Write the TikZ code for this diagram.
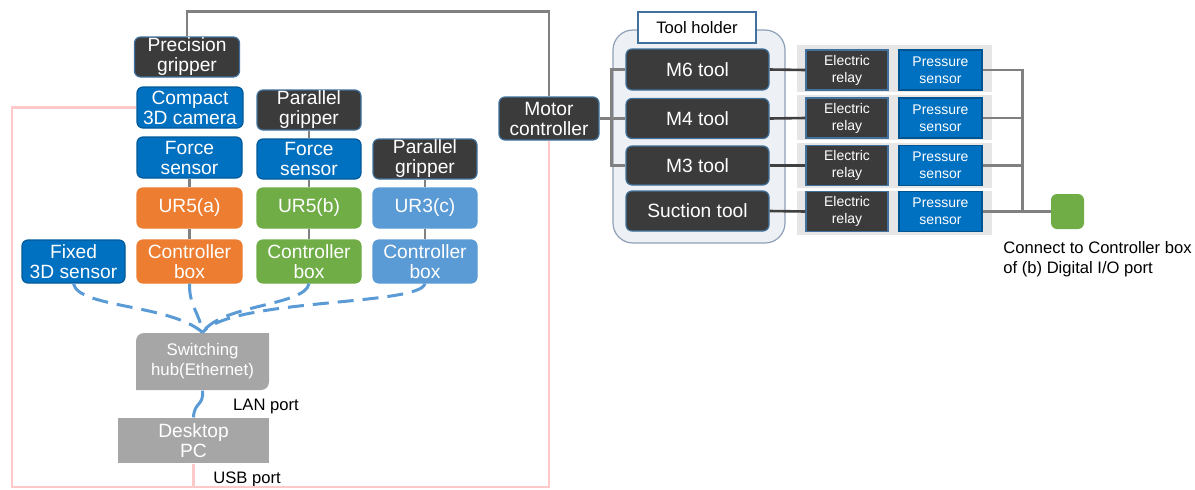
\documentclass[tikz,border=0pt]{standalone}
\usepackage{fontspec}
\setmainfont{Liberation Sans}
\usetikzlibrary{arrows.meta}
\definecolor{boxdark}{HTML}{3B3B3B}
\definecolor{boxedge}{HTML}{41719C}
\definecolor{uiblue}{HTML}{0070C0}
\definecolor{uiorange}{HTML}{ED7D31}
\definecolor{uigreen}{HTML}{70AD47}
\definecolor{uilight}{HTML}{5B9BD5}
\definecolor{hubgray}{HTML}{A6A6A6}
\definecolor{wiregray}{HTML}{808080}
\definecolor{wiredark}{HTML}{404040}
\definecolor{pinkwire}{HTML}{FFC9C9}
\definecolor{framebg}{HTML}{EDF0F4}
\definecolor{framebd}{HTML}{8EA0B8}
\definecolor{rowbg}{HTML}{E7E6E6}
\tikzset{
  sz/.style 2 args={minimum width=#1*0.5pt, minimum height=#2*0.5pt},
  box/.style={rounded corners=3pt, line width=0.6pt, text=white, align=center,
              inner sep=0pt, font=\fontsize{9.6}{10}\selectfont},
  darkbox/.style={box, fill=boxdark, draw=boxedge},
  bluebox/.style={box, fill=uiblue, draw=uiblue!80!black},
  orangebox/.style={box, fill=uiorange, draw=uiorange},
  greenbox/.style={box, fill=uigreen, draw=uigreen},
  lightbox/.style={box, fill=uilight, draw=uilight},
  smallbox/.style={line width=0.6pt, text=white, align=center, inner sep=0pt,
                   font=\fontsize{7}{8.5}\selectfont},
  relaybox/.style={smallbox, fill=boxdark, draw=boxedge},
  pressbox/.style={smallbox, fill=uiblue, draw=uiblue!75!black},
  note/.style={inner sep=0pt, align=left, font=\fontsize{8.3}{10}\selectfont},
  gline/.style={draw=wiregray, line width=1.3pt},
  dline/.style={draw=wiredark, line width=1.3pt},
  pline/.style={draw=pinkwire, line width=1.1pt},
  lan/.style={draw=uilight, line width=1.5pt},
  landash/.style={lan, dash pattern=on 8pt off 4.5pt}
}
\begin{document}
\begin{tikzpicture}[x=0.5pt, y=-0.5pt]
	\useasboundingbox (0,0) rectangle (1195,489);
	% robot arms
	\node[darkbox, sz={105}{40}] (prec) at (187,57) {Precision\\gripper};
	\node[bluebox, sz={106}{41}] (cam) at (190,107.5) {Compact\\3D camera};
	\node[bluebox, sz={105}{41}] (fsa) at (189.5,157.5) {Force\\sensor};
	\node[orangebox, sz={105}{40}] (ura) at (189.5,208) {UR5(a)};
	\node[orangebox, sz={105}{43}] (cba) at (189.5,261.5) {Controller\\box};
	\node[bluebox, sz={103}{43}] (fix) at (73.5,261.5) {Fixed\\3D sensor};
	\node[darkbox, sz={104}{40}] (pgb) at (309,110) {Parallel\\gripper};
	\node[bluebox, sz={104}{40}] (fsb) at (309,159) {Force\\sensor};
	\node[greenbox, sz={104}{40}] (urb) at (309,208) {UR5(b)};
	\node[greenbox, sz={104}{43}] (cbb) at (309,261.5) {Controller\\box};
	\node[darkbox, sz={104}{40}] (pgc) at (425,159) {Parallel\\gripper};
	\node[lightbox, sz={104}{40}] (urc) at (425,208) {UR3(c)};
	\node[lightbox, sz={104}{43}] (cbc) at (425,261.5) {Controller\\box};
	\draw[gline] (fsa) -- (ura);
	\draw[gline] (ura) -- (cba);
	\draw[gline] (pgb) -- (fsb);
	\draw[gline] (fsb) -- (urb);
	\draw[gline] (urb) -- (cbb);
	\draw[gline] (pgc) -- (urc);
	\draw[gline] (urc) -- (cbc);
	% hub and PC
	\fill[hubgray] (144,333) -- (269,333) -- (269,382) arc[start angle=0, end angle=-90, radius=4pt]
		-- (136,390) -- (136,341) arc[start angle=180, end angle=90, radius=4pt] -- cycle;
	\node[box, text=white, font=\fontsize{8.4}{10}\selectfont, sz={133}{57}] (hub) at (202.5,361.5) {Switching\\hub(Ethernet)};
	\node[box, rounded corners=0pt, fill=hubgray, sz={151}{45}] (pc) at (193.5,440.5) {Desktop\\PC};
	\draw[landash] (fix.south) .. controls (78,308) and (170,304) .. (hub.north);
	\draw[landash] (cba.south) .. controls (189,306) and (200,314) .. (hub.north);
	\draw[landash] (cbb.south) .. controls (305,306) and (222,304) .. (hub.north);
	\draw[landash] (cbc.south) .. controls (420,306) and (232,298) .. (hub.north);
	\draw[lan] (hub.south) .. controls (204,406) and (194,402) .. (pc.north);
	\node[note] (lanlbl) at (266,407) {LAN port};
	\node[note] (usblbl) at (247,479) {USB port};
	% motor controller and tools
	\node[darkbox, sz={100}{43}] (motor) at (549,118.5) {Motor\\controller};
	\node[draw=framebd, fill=framebg, line width=0.6pt, rounded corners=10pt, sz={172}{213}] (holder) at (699,136.5) {};
	\node[draw=boxedge, fill=white, line width=0.6pt, inner sep=0pt, font=\fontsize{8.3}{10}\selectfont, sz={118}{31}] (holderlbl) at (697,27.5) {Tool holder};
	\node[darkbox, sz={143}{41}] (m6) at (697.5,69.5) {M6 tool};
	\node[darkbox, sz={143}{40}] (m4) at (697.5,118.5) {M4 tool};
	\node[darkbox, sz={143}{39}] (m3) at (697.5,165.5) {M3 tool};
	\node[darkbox, sz={143}{40}] (suc) at (697.5,211) {Suction tool};
	\fill[rowbg] (797,45) rectangle (992,92);
	\fill[rowbg] (797,95) rectangle (992,140);
	\fill[rowbg] (797,143) rectangle (992,188);
	\fill[rowbg] (797,191) rectangle (992,235);
	\node[relaybox, sz={82}{40}] (r1) at (847,70) {Electric\\relay};
	\node[relaybox, sz={82}{40}] (r2) at (847,118) {Electric\\relay};
	\node[relaybox, sz={82}{40}] (r3) at (847,165.5) {Electric\\relay};
	\node[relaybox, sz={82}{40}] (r4) at (847,211.5) {Electric\\relay};
	\node[pressbox, sz={83}{40}] (p1) at (940.5,70) {Pressure\\sensor};
	\node[pressbox, sz={83}{40}] (p2) at (940.5,118) {Pressure\\sensor};
	\node[pressbox, sz={83}{40}] (p3) at (940.5,165.5) {Pressure\\sensor};
	\node[pressbox, sz={83}{40}] (p4) at (940.5,211.5) {Pressure\\sensor};
	\node[fill=uigreen, rounded corners=3pt, sz={33}{35}] (port) at (1067.5,211.5) {};
	\node[note, anchor=north west] (portlbl) at (1003,241) {Connect to Controller box\\of (b) Digital I/O port};
	\draw[gline] (motor.east) -- (m4.west);
	\draw[gline] (m6.west) -- ++(-14,0) |- (m3.west);
	\draw[dline] (m6.east) -- (r1.west);
	\draw[dline] (m4.east) -- (r2.west);
	\draw[dline] (m3.east) -- (r3.west);
	\draw[dline] (suc.east) -- (r4.west);
	\draw[gline] (p1.east) -- ++(40,0) |- (p4.east);
	\draw[gline] (p2.east) -- ++(40,0);
	\draw[gline] (p3.east) -- ++(40,0);
	\draw[gline] (p4.east) -- (port.west);
	% cables
	\draw[gline] (prec.north) -- ++(0,-25) -| (motor.north);
	\coordinate (pinkbr) at (549,487);
	\coordinate (pinkbl) at (12,487);
	\draw[pline] (motor.south) -- (pinkbr) -- (pinkbl) |- (cam.west);
	\draw[pline] (pc.south) -- (pc.south |- pinkbl);
\end{tikzpicture}
\end{document}
